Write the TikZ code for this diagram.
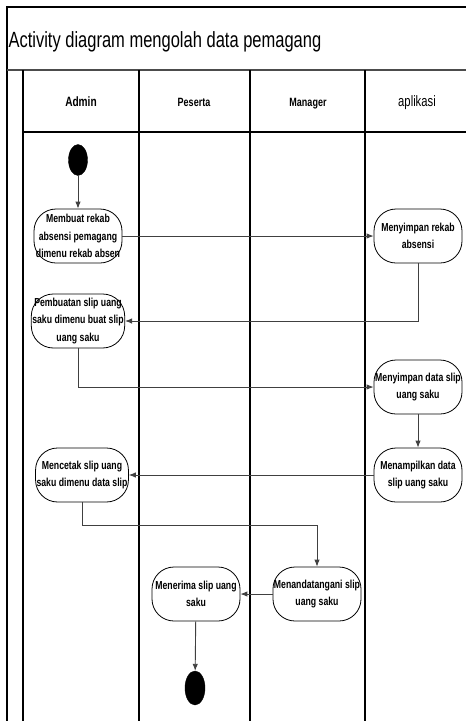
\documentclass[tikz,border=0pt]{standalone}
\usepackage{fontspec}
\setmainfont[FakeStretch=0.75]{Liberation Sans}
\usetikzlibrary{shapes.geometric, arrows.meta}

\begin{document}
\begin{tikzpicture}[x=1pt, y=-1pt, >={Latex[length=7pt, width=5.5pt]},
	act/.style = {draw, thick, rounded corners=22pt, minimum width=88pt, minimum height=54pt, inner sep=1pt, align=center, font=\fontsize{11.6}{17.5}\selectfont\bfseries},
	dot/.style = {draw, fill=black, ellipse, inner sep=0pt},
	lane/.style = {line width=1.3pt},
	head/.style = {text height=0.75em, text depth=0.25em},
	flow/.style = {->, draw=black!75, line width=0.9pt}]
	\useasboundingbox (0,0) rectangle (466,721);
	\clip (0,0) rectangle (466,721);
	
	% frame and title
	\draw[line width=1.3pt] (7,721) -- (7,7) -- (470,7);
	\draw[line width=1.6pt, black!70] (7,70) -- (470,70);
	\node[anchor=west, font=\fontsize{22}{24}\selectfont] (title) at (5,42) {Activity diagram mengolah data pemagang};
	
	% swimlanes
	\draw[lane] (23,721) -- (23,70);
	\draw[lane] (139,721) -- (139,70);
	\draw[lane] (250,721) -- (250,70);
	\draw[lane] (365,721) -- (365,70);
	\draw[lane] (23,132) -- (470,132);
	\node[head, font=\fontsize{13.5}{16}\selectfont\bfseries] (admin) at (81,104) {Admin};
	\node[head, font=\fontsize{12}{16}\selectfont\bfseries] (peserta) at (194,104) {Peserta};
	\node[head, font=\fontsize{12}{16}\selectfont\bfseries] (manager) at (308,104) {Manager};
	\node[head, font=\fontsize{15}{18}\selectfont] (aplikasi) at (417,104) {aplikasi};
	
	% activities
	\node[dot, minimum width=19pt, minimum height=31pt] (start) at (78,160) {};
	\node[act] (rekab) at (78,236) {Membuat rekab\\absensi pemagang\\dimenu rekab absen};
	\node[act] (simpanrekab) at (418,236) {Menyimpan rekab\\absensi};
	\node[act] (buatslip) at (78,321) {Pembuatan slip uang\\saku dimenu buat slip\\uang saku};
	\node[act] (simpanslip) at (418,387) {Menyimpan data slip\\uang saku};
	\node[act] (tampil) at (418,475) {Menampilkan data\\slip uang saku};
	\node[act] (cetak) at (82,475) {Mencetak slip uang\\saku dimenu data slip};
	\node[act] (ttd) at (317,594) {Menandatangani slip\\uang saku};
	\node[act] (terima) at (196,594) {Menerima slip uang\\saku};
	\node[dot, minimum width=20pt, minimum height=34pt] (end) at (195,688) {};
	
	% flows
	\draw[flow] (start) -- (rekab);
	\draw[flow] (rekab) -- (simpanrekab);
	\draw[flow] (simpanrekab.south) |- (buatslip.east);
	\draw[flow] (buatslip.south) |- (simpanslip.west);
	\draw[flow] (simpanslip) -- (tampil);
	\draw[flow] (tampil) -- (cetak);
	\draw[flow] (cetak.south) -- ++(0,23) -| (ttd.north);
	\draw[flow] (ttd) -- (terima);
	\draw[flow] (terima) -- (end);
	
\end{tikzpicture}
\end{document}
